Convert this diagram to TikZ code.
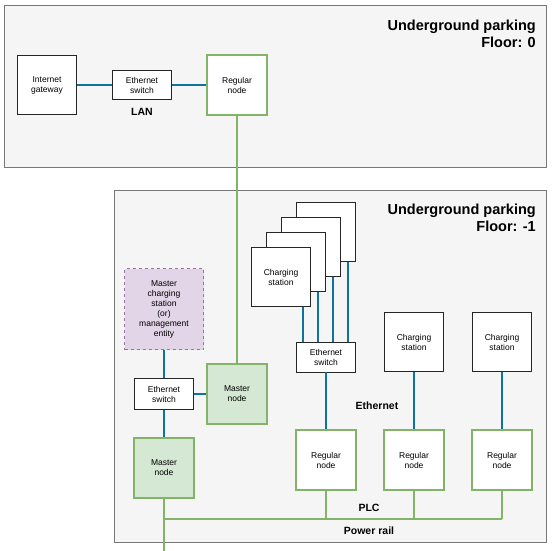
\documentclass[tikz,border=0pt]{standalone}
\usepackage{fontspec}
\setmainfont{Liberation Sans}
\usetikzlibrary{calc}
\definecolor{ethblue}{HTML}{10739E}
\definecolor{plcgreen}{HTML}{82B366}
\definecolor{greenfill}{HTML}{D5E8D4}
\definecolor{purplefill}{HTML}{E1D5E7}
\definecolor{purpleline}{HTML}{9673A6}
\definecolor{panelfill}{HTML}{F5F5F5}
\definecolor{panelline}{HTML}{777777}
\tikzset{
  panel/.style={draw=panelline, fill=panelfill, line width=1pt, inner sep=0pt, anchor=north west},
  boxsmall/.style={font=\fontsize{8.5}{10}\selectfont, align=center, inner sep=0pt},
  whitebox/.style={boxsmall, draw=black!85, fill=white, line width=0.9pt},
  greenbox/.style={boxsmall, draw=plcgreen, fill=white, line width=2pt, minimum width=60pt, minimum height=60pt},
  masterbox/.style={boxsmall, draw=plcgreen, fill=greenfill, line width=2pt, minimum width=60pt, minimum height=60pt},
  mgmtbox/.style={boxsmall, draw=purpleline, fill=purplefill, line width=0.9pt, dashed},
  sq/.style={minimum width=59pt, minimum height=59pt},
  flat/.style={minimum width=59pt, minimum height=30pt},
  titletext/.style={font=\bfseries\fontsize{14.5}{17}\selectfont, align=right, anchor=north east, inner sep=0pt},
  lbl/.style={font=\bfseries\fontsize{10.5}{12}\selectfont, inner sep=0pt},
  eth/.style={draw=ethblue, line width=2pt},
  plc/.style={draw=plcgreen, line width=2pt},
}
\begin{document}
\begin{tikzpicture}[x=1pt,y=-1pt]
\useasboundingbox (0,0) rectangle (554,551);
% panels
\node[panel, minimum width=542pt, minimum height=161pt] (floor0) at (3.5,5.5) {};
\node[panel, minimum width=432pt, minimum height=352pt] (floor1) at (113.5,189.5) {};
\node[titletext] (title0) at (536,19.5) {Underground parking\\Floor: 0};
\node[titletext] (title1) at (536,203.5) {Underground parking\\Floor: -1};
% floor 0
\node[whitebox, sq] (gw) at (47,85) {Internet\\gateway};
\node[whitebox, flat, minimum height=29pt] (sw0) at (142,85) {Ethernet\\switch};
\node[greenbox] (rn0) at (237,85) {Regular\\node};
\node[lbl] (lan) at (142,112) {LAN};
\draw[eth] (gw.east) -- (sw0.west);
\draw[eth] (sw0.east) -- (rn0.west);
% floor -1, left part
\node[mgmtbox, minimum width=79pt, minimum height=81pt] (mcs) at (164,309) {Master\\charging\\station\\(or)\\management\\entity};
\node[whitebox, flat, minimum height=31pt] (sw1) at (164,394) {Ethernet\\switch};
\node[masterbox] (mn1) at (237,394) {Master\\node};
\node[masterbox] (mn2) at (164,468) {Master\\node};
\draw[plc] (rn0.south) -- (mn1.north);
\draw[eth] (mcs.south) -- (sw1.north);
\draw[eth] (sw1.south) -- (mn2.north);
\draw[eth] (sw1.east) -- (mn1.west);
% stacked charging stations
\node[whitebox, sq] (cs4) at (326,232) {};
\node[whitebox, sq] (cs3) at (311,247) {};
\node[whitebox, sq] (cs2) at (296,262) {};
\node[whitebox, sq] (cs1) at (281,277) {Charging\\station};
\node[whitebox, flat] (sw2) at (326,357) {Ethernet\\switch};
\coordinate (c1b) at ([xshift=-7.5pt]cs1.south east);
\coordinate (c2b) at ([xshift=-7.5pt]cs2.south east);
\coordinate (c3b) at ([xshift=-7.5pt]cs3.south east);
\coordinate (c4b) at ([xshift=-7.5pt]cs4.south east);
\draw[eth] (c1b) -- (c1b |- sw2.north);
\draw[eth] (c2b) -- (c2b |- sw2.north);
\draw[eth] (c3b) -- (c3b |- sw2.north);
\draw[eth] (c4b) -- (c4b |- sw2.north);
% other charging stations
\node[whitebox, sq] (csb) at (414,342) {Charging\\station};
\node[whitebox, sq] (csc) at (502,342) {Charging\\station};
% regular nodes
\node[greenbox] (rn1) at (326,460) {Regular\\node};
\node[greenbox] (rn2) at (414,460) {Regular\\node};
\node[greenbox] (rn3) at (502,460) {Regular\\node};
\draw[eth] (sw2.south) -- (rn1.north);
\draw[eth] (csb.south) -- (rn2.north);
\draw[eth] (csc.south) -- (rn3.north);
\node[lbl] (ethlbl) at (377,406) {Ethernet};
% power rail
\coordinate (railL) at (164,519);
\coordinate (bottomend) at (164,551);
\draw[plc] (mn2.south) -- (bottomend);
\draw[plc] (railL) -- (rn3.south |- railL);
\draw[plc] (rn1.south) -- (rn1.south |- railL);
\draw[plc] (rn2.south) -- (rn2.south |- railL);
\draw[plc] (rn3.south) -- (rn3.south |- railL);
\node[lbl] (plclbl) at (369,508) {PLC};
\node[lbl] (raillbl) at (369,531) {Power rail};
\end{tikzpicture}
\end{document}
